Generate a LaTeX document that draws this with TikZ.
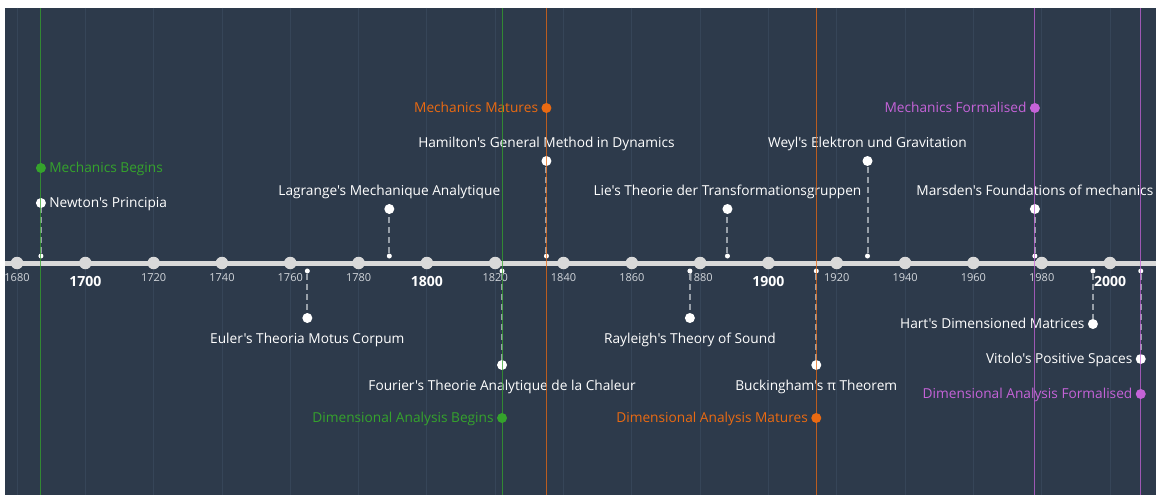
\documentclass[tikz,border=0pt]{standalone}
\usepackage{fontspec}
\setmainfont{Open Sans}[Ligatures=TeXOff]
\usepackage{tikz}

\definecolor{bgblue}{HTML}{2D3A4B}
\definecolor{gridline}{HTML}{364558}
\definecolor{axisgray}{HTML}{D9D9D9}
\definecolor{yeargray}{HTML}{D2D6DB}
\definecolor{stemgray}{HTML}{98A0A9}
\definecolor{mgreen}{HTML}{35A32C}
\definecolor{morange}{HTML}{EA6A12}
\definecolor{mpurple}{HTML}{C563D8}

\tikzset{
  evt/.style={circle,fill=white,inner sep=0pt,minimum size=10pt},
  era/.style={circle,inner sep=0pt,minimum size=10pt},
  foot/.style={circle,fill=white,inner sep=0pt,minimum size=5pt},
  yeartick/.style={circle,fill=axisgray,inner sep=0pt,minimum size=12.5pt},
  yearlab/.style={text=yeargray,inner sep=0pt,font=\fontsize{11}{13}\selectfont},
  centlab/.style={text=white,inner sep=0pt,font=\bfseries\fontsize{14}{16}\selectfont},
  evlabel/.style={text=white,inner sep=0pt,text height=10.5pt,text depth=3.3pt,
    font=\fontsize{13.7}{16}\selectfont},
  tagup/.style={label={[evlabel,label distance=4.6pt]above:#1}},
  tagdown/.style={label={[evlabel,label distance=9.2pt]below:#1}},
  tagleft/.style={label={[evlabel,label distance=3pt,yshift=-1pt]left:#1}},
  tagright/.style={label={[evlabel,label distance=3pt,yshift=-1pt]right:#1}},
  eraleft/.style 2 args={fill=#1,label={[evlabel,text=#1,label distance=3pt,yshift=-1pt]left:#2}},
  eraright/.style 2 args={fill=#1,label={[evlabel,text=#1,label distance=3pt,yshift=-1pt]right:#2}},
  stem/.style={stemgray,line width=2pt,dash pattern=on 6pt off 4pt},
  eraline/.style={line width=1pt,opacity=0.75},
}

\begin{document}
\begin{tikzpicture}[x=1pt,y=-1pt]

  \fill[white] (0,0) rectangle (1156,495);
  \fill[bgblue] (5,8) rectangle (1156,495);
  \useasboundingbox (0,0) rectangle (1156,495);
  \coordinate (top) at (0,8);
  \coordinate (bot) at (0,495);
  \coordinate (axl) at (5,263);
  \coordinate (axr) at (1156,263);

  \begin{scope}[x=3.4156pt,xshift=-5721.2pt]

  % grid, axis and years
  \foreach \y in {1680,1700,...,2000}
    \draw[gridline,line width=0.8pt] (\y,8) -- (\y,495);
  \draw[axisgray,line width=5pt] (axl) -- (axr);
  \foreach \y in {1680,1700,...,2000}
    \node[yeartick] (t\y) at (\y,263) {};
  \foreach \y in {1680,1720,1740,1760,1780,1820,1840,1860,1880,1920,1940,1960,1980}
    \node[yearlab] at (\y,278) {\y};
  \foreach \y in {1700,1800,1900,2000}
    \node[centlab] at (\y,281) {\y};

  % events above the axis
  \node[foot] (newton-f) at (1687,256) {};
  \node[evt,tagright=Newton's Principia] (newton) at (1687,203) {};
  \node[foot] (lagrange-f) at (1789,256) {};
  \node[evt,tagup=Lagrange's Mechanique Analytique] (lagrange) at (1789,209) {};
  \node[foot] (hamilton-f) at (1835,256) {};
  \node[evt,tagup=Hamilton's General Method in Dynamics] (hamilton) at (1835,161) {};
  \node[foot] (lie-f) at (1888,256) {};
  \node[evt,tagup=Lie's Theorie der Transformationsgruppen] (lie) at (1888,209) {};
  \node[foot] (weyl-f) at (1929,256) {};
  \node[evt,tagup=Weyl's Elektron und Gravitation] (weyl) at (1929,161) {};
  \node[foot] (marsden-f) at (1978,256) {};
  \node[evt,tagup=Marsden's Foundations of mechanics] (marsden) at (1978,209) {};

  % events below the axis
  \node[foot] (euler-f) at (1765,271) {};
  \node[evt,tagdown=Euler's Theoria Motus Corpum] (euler) at (1765,318) {};
  \node[foot] (fourier-f) at (1822,271) {};
  \node[evt,tagdown=Fourier's Theorie Analytique de la Chaleur] (fourier) at (1822,365) {};
  \node[foot] (rayleigh-f) at (1877,271) {};
  \node[evt,tagdown=Rayleigh's Theory of Sound] (rayleigh) at (1877,318) {};
  \node[foot] (buck-f) at (1914,271) {};
  \node[evt,tagdown=Buckingham's π Theorem] (buck) at (1914,365) {};
  \node[foot] (hart-f) at (1995,271) {};
  \node[evt,tagleft=Hart's Dimensioned Matrices] (hart) at (1995,324) {};
  \node[foot] (vitolo-f) at (2009,271) {};
  \node[evt,tagleft=Vitolo's Positive Spaces] (vitolo) at (2009,359) {};

  \foreach \e in {newton,lagrange,hamilton,lie,weyl,marsden,
                  euler,fourier,rayleigh,buck,hart,vitolo}
    \draw[stem] (\e-f) -- (\e);

  % eras
  \node[era,eraright={mgreen}{Mechanics Begins}] (mbegin) at (1687,168) {};
  \node[era,eraleft={morange}{Mechanics Matures}] (mmature) at (1835,108) {};
  \node[era,eraleft={mpurple}{Mechanics Formalised}] (mformal) at (1978,108) {};
  \node[era,eraleft={mgreen}{Dimensional Analysis Begins}] (dbegin) at (1822,418) {};
  \node[era,eraleft={morange}{Dimensional Analysis Matures}] (dmature) at (1914,418) {};
  \node[era,eraleft={mpurple}{Dimensional Analysis Formalised}] (dformal) at (2009,394) {};

  \draw[eraline,mgreen] (mbegin |- top) -- (mbegin |- bot);
  \draw[eraline,morange] (mmature |- top) -- (mmature |- bot);
  \draw[eraline,mpurple] (mformal |- top) -- (mformal |- bot);
  \draw[eraline,mgreen] (dbegin |- top) -- (dbegin |- bot);
  \draw[eraline,morange] (dmature |- top) -- (dmature |- bot);
  \draw[eraline,mpurple] (dformal |- top) -- (dformal |- bot);

  \end{scope}

\end{tikzpicture}
\end{document}
